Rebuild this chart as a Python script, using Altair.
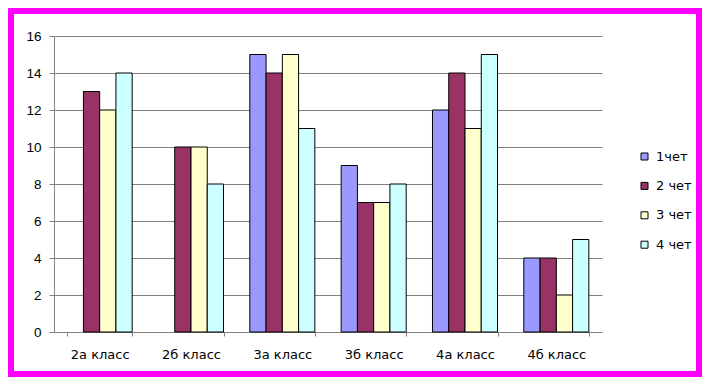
import altair as alt
import pandas as pd

classes = ["2а класс", "2б класс", "3а класс", "3б класс", "4а класс", "4б класс"]
series = ["1чет", "2 чет", "3 чет", "4 чет"]
q1 = [None, None, 15, 9, 12, 4]
q2 = [13, 10, 14, 7, 14, 4]
q3 = [12, 10, 15, 7, 11, 2]
q4 = [14, 8, 11, 8, 15, 5]
colors = ["#9999FF", "#993366", "#FFFFCC", "#CCFFFF"]
y_ticks = [0, 2, 4, 6, 8, 10, 12, 14, 16]

rows = []
for s, vals in zip(series, [q1, q2, q3, q4]):
    for c, v in zip(classes, vals):
        if v is not None:
            rows.append({"class": c, "series": s, "value": v})
df = pd.DataFrame(rows)

grey = "#808080"

bars = alt.Chart(df).mark_bar(stroke="black", strokeWidth=1).encode(
    x=alt.X("class:N", sort=classes,
            scale=alt.Scale(domain=classes, paddingInner=0.288, paddingOuter=0.144),
            axis=alt.Axis(title=None, labelAngle=0, tickBand="extent", grid=False,
                          domainColor=grey, tickColor=grey, tickSize=4, labelPadding=12,
                          labelFont="DejaVu Sans", labelFontSize=13, labelColor="black")),
    xOffset=alt.XOffset("series:N", sort=series,
                        scale=alt.Scale(domain=series, paddingInner=0, paddingOuter=0)),
    y=alt.Y("value:Q", scale=alt.Scale(domain=[0, 16], nice=False),
            axis=alt.Axis(title=None, values=y_ticks, grid=True, gridColor=grey,
                          domainColor=grey, tickColor=grey, tickSize=5, labelPadding=8,
                          labelFont="Liberation Sans", labelFontSize=13.5, labelColor="black")),
    color=alt.Color("series:N", sort=series,
                    scale=alt.Scale(domain=series, range=colors),
                    legend=alt.Legend(title=None, orient="none", legendX=584, legendY=114,
                                      padding=0, symbolType="square", symbolSize=49,
                                      symbolStrokeColor="black", symbolStrokeWidth=1,
                                      labelFont="DejaVu Sans", labelFontSize=13,
                                      labelColor="black", labelOffset=5, rowPadding=15.4)),
)

frame = alt.Chart(alt.Data(values=[{}])).mark_rect(
    fillOpacity=0, stroke="#FF00FF", strokeWidth=6
).encode(
    x=alt.value(-43), x2=alt.value(645), y=alt.value(-25), y2=alt.value(338)
)

chart = alt.layer(bars, frame).properties(
    width=548, height=296,
    autosize=alt.AutoSizeParams(type="none"),
    padding={"left": 46, "top": 28, "right": 100, "bottom": 45},
    background="white",
).configure_view(stroke=None)

chart.save("out.html", embed_options={"renderer": "svg", "actions": False})
